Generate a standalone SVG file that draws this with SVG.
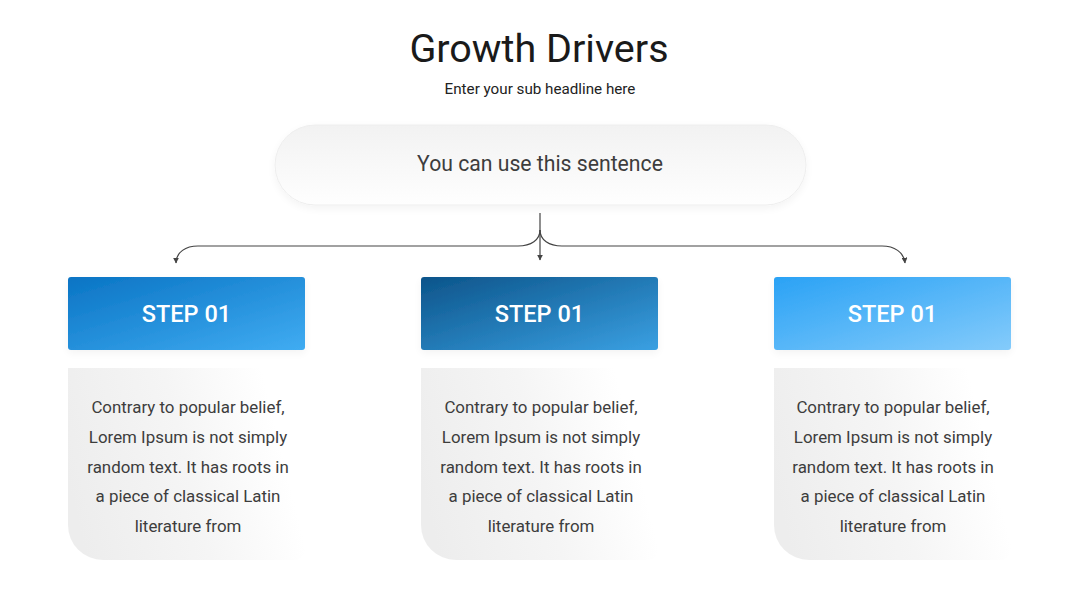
<svg xmlns="http://www.w3.org/2000/svg" width="1080" height="608" viewBox="0 0 1080 608">
<defs>
<style>
.t{font-family:Roboto,"Liberation Sans",sans-serif;text-anchor:middle}
.title{font-size:39.5px;fill:#1a1a1a}
.sub{font-size:15.2px;fill:#222}
.pilltxt{font-size:21.2px;fill:#3d3d3d}
.step{font-size:23.5px;fill:#fff;font-weight:500}
.body{font-size:16.9px;fill:#3d3d3d}
.conn{fill:none;stroke:#444;stroke-width:1.2}
</style>
<marker id="arr" viewBox="0 0 10 10" refX="9" refY="5" markerWidth="6" markerHeight="6" orient="auto" markerUnits="userSpaceOnUse">
<path d="M0,0 L10,5 L0,10 z" fill="#444"/>
</marker>
<linearGradient id="gPill" x1="0" y1="0" x2="0" y2="1">
<stop offset="0" stop-color="#f2f2f2"/>
<stop offset="1" stop-color="#fefefe"/>
</linearGradient>
<linearGradient id="g1" x1="0" y1="0" x2="1" y2="1">
<stop offset="0" stop-color="#0a74c4"/>
<stop offset="1" stop-color="#40acf2"/>
</linearGradient>
<linearGradient id="g2" x1="0" y1="0" x2="1" y2="1">
<stop offset="0" stop-color="#0c548a"/>
<stop offset="1" stop-color="#3aa0e2"/>
</linearGradient>
<linearGradient id="g3" x1="0" y1="0" x2="1" y2="1">
<stop offset="0" stop-color="#2aa2f5"/>
<stop offset="1" stop-color="#84cbfb"/>
</linearGradient>
<linearGradient id="gCard" x1="0" y1="0.6" x2="1" y2="0.4">
<stop offset="0" stop-color="#ededed"/>
<stop offset="0.5" stop-color="#f5f5f5"/>
<stop offset="0.9" stop-color="#ffffff"/>
</linearGradient>
<filter id="sh" x="-20%" y="-20%" width="140%" height="160%">
<feGaussianBlur in="SourceAlpha" stdDeviation="4"/>
<feOffset dy="3"/>
<feComponentTransfer><feFuncA type="linear" slope="0.05"/></feComponentTransfer>
<feMerge><feMergeNode/><feMergeNode in="SourceGraphic"/></feMerge>
</filter>
</defs>
<rect width="1080" height="608" fill="#fff"/>

<g id="title">
<text class="t title" x="539" y="62">Growth Drivers</text>
<text class="t sub" x="540" y="94">Enter your sub headline here</text>
</g>

<g id="pill">
<rect x="275" y="125" width="531" height="80" rx="40" fill="url(#gPill)" stroke="#eeeeee" stroke-width="1" filter="url(#sh)"/>
<text class="t pilltxt" x="540" y="171">You can use this sentence</text>
</g>

<g id="connectors">
<path class="conn" d="M540,213 L540,260" marker-end="url(#arr)"/>
<path class="conn" d="M540,230 C540,240 531,246 518,246 L198,246 C186,246 176,252 176,263" marker-end="url(#arr)"/>
<path class="conn" d="M540,230 C540,240 549,246 562,246 L882,246 C894,246 904,252 905,263" marker-end="url(#arr)"/>
</g>

<g id="step1">
<rect x="68" y="277" width="237" height="73" rx="3" fill="url(#g1)" filter="url(#sh)"/>
<text class="t step" x="186.5" y="322">STEP 01</text>
</g>
<g id="step2">
<rect x="421" y="277" width="237" height="73" rx="3" fill="url(#g2)" filter="url(#sh)"/>
<text class="t step" x="539.5" y="322">STEP 01</text>
</g>
<g id="step3">
<rect x="774" y="277" width="237" height="73" rx="3" fill="url(#g3)" filter="url(#sh)"/>
<text class="t step" x="892.5" y="322">STEP 01</text>
</g>

<g id="card1">
<path d="M68,368 H305 V548 Q305,560 293,560 H103 A35,35 0 0 1 68,525 Z" fill="url(#gCard)"/>
<text class="t body" x="188" y="413">Contrary to popular belief,</text>
<text class="t body" x="188" y="443">Lorem Ipsum is not simply</text>
<text class="t body" x="188" y="473">random text. It has roots in</text>
<text class="t body" x="188" y="502">a piece of classical Latin</text>
<text class="t body" x="188" y="532">literature from</text>
</g>
<g id="card2">
<path d="M421,368 H658 V548 Q658,560 646,560 H456 A35,35 0 0 1 421,525 Z" fill="url(#gCard)"/>
<text class="t body" x="541" y="413">Contrary to popular belief,</text>
<text class="t body" x="541" y="443">Lorem Ipsum is not simply</text>
<text class="t body" x="541" y="473">random text. It has roots in</text>
<text class="t body" x="541" y="502">a piece of classical Latin</text>
<text class="t body" x="541" y="532">literature from</text>
</g>
<g id="card3">
<path d="M774,368 H1011 V548 Q1011,560 999,560 H809 A35,35 0 0 1 774,525 Z" fill="url(#gCard)"/>
<text class="t body" x="893" y="413">Contrary to popular belief,</text>
<text class="t body" x="893" y="443">Lorem Ipsum is not simply</text>
<text class="t body" x="893" y="473">random text. It has roots in</text>
<text class="t body" x="893" y="502">a piece of classical Latin</text>
<text class="t body" x="893" y="532">literature from</text>
</g>
</svg>
